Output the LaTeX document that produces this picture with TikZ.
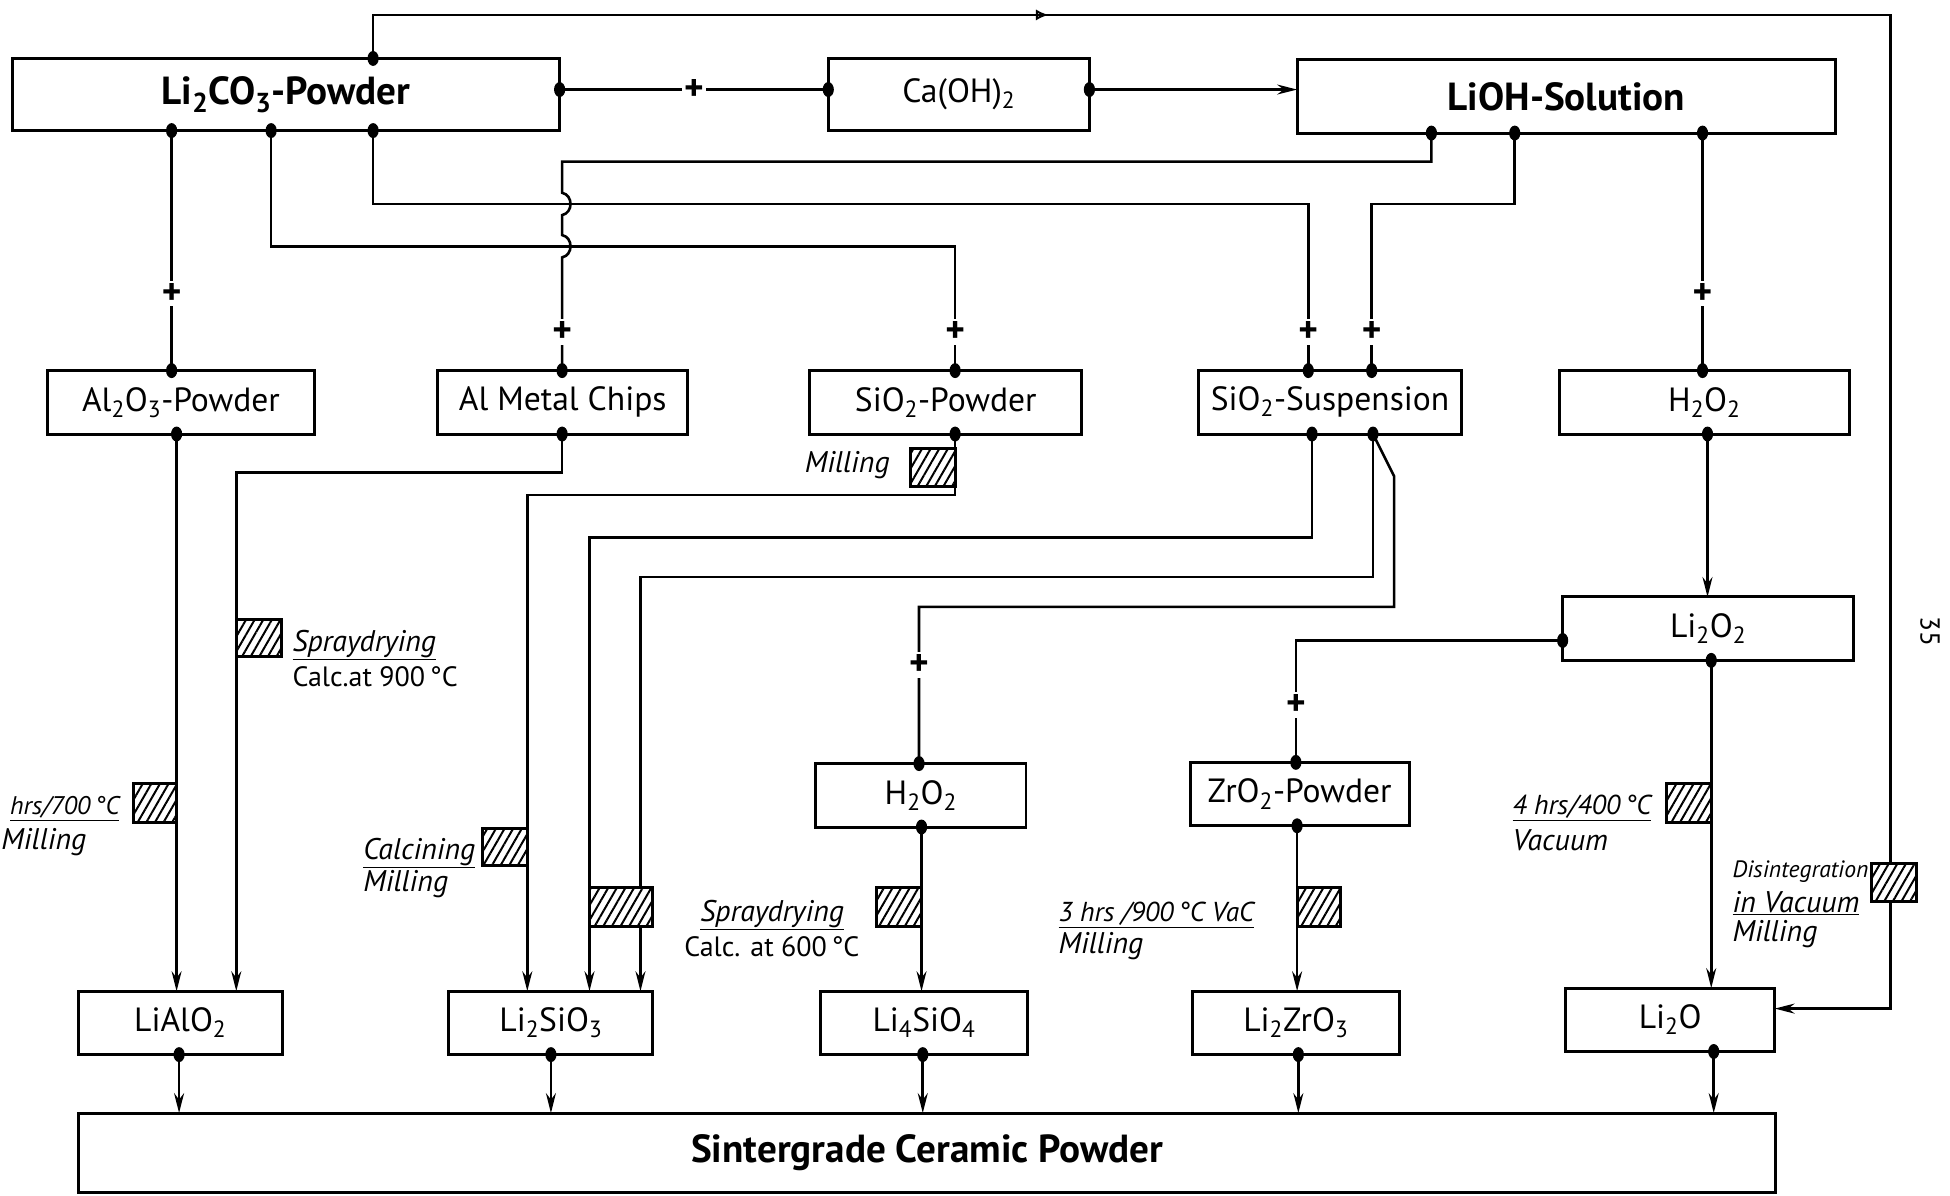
\documentclass[tikz,border=0pt]{standalone}
\usepackage{fontspec}
\setmainfont{PT Sans}
\usetikzlibrary{arrows.meta,patterns.meta,decorations.markings}
\newcommand\subs[1]{\textsubscript{#1}}
\newcommand\degc{\,°C}
\tikzset{
  box/.style={draw, line width=2.4pt, inner sep=0pt, fill=white, font=\fontsize{27}{30}\selectfont},
  bigbox/.style={box, font=\bfseries\fontsize{31.5}{34}\selectfont},
  conn/.style={line width=2.1pt},
  arr/.style={conn, -{Stealth[length=16pt,width=8pt]}},
  plus/.style={fill=white, inner sep=2pt, font=\bfseries\fontsize{30}{30}\selectfont},
  hatchbox/.style={draw, line width=2.4pt, preaction={fill=white}, pattern={Lines[angle=60,distance=6pt,line width=1.6pt]}},
  lbl/.style={anchor=west, inner sep=0pt, font=\itshape\fontsize{24}{28}\selectfont},
  tlbl/.style={anchor=west, inner sep=0pt, font=\itshape\fontsize{22}{26}\selectfont},
  rlbl/.style={anchor=west, inner sep=0pt, font=\fontsize{22.5}{26}\selectfont},
  slbl/.style={anchor=west, inner sep=0pt, font=\itshape\fontsize{19}{22}\selectfont},
}
\begin{document}
\begin{tikzpicture}[x=1pt,y=-1pt]
\useasboundingbox (0,0) rectangle (1568,961);
\fill[white] (0,0) rectangle (1568,961);
\clip (0,0) rectangle (1568,961);

% ---------- boxes ----------
\node[bigbox, minimum width=440pt, minimum height=58pt] (lico) at (230,76) {Li\subs{2}CO\subs{3}-Powder};
\node[box, minimum width=210pt, minimum height=58pt] (caoh) at (771,76) {Ca(OH)\subs{2}};
\node[bigbox, minimum width=433pt, minimum height=59pt] (lioh) at (1259.5,77.5) {LiOH-Solution};
\node[box, minimum width=215pt, minimum height=51pt] (alo) at (145.5,323.5) {Al\subs{2}O\subs{3}-Powder};
\node[box, minimum width=201pt, minimum height=51pt] (alm) at (452.5,323.5) {Al Metal Chips};
\node[box, minimum width=219pt, minimum height=51pt] (sip) at (760.5,323.5) {SiO\subs{2}-Powder};
\node[box, minimum width=211pt, minimum height=51pt] (sis) at (1069.5,323.5) {SiO\subs{2}-Suspension};
\node[box, minimum width=233pt, minimum height=51pt] (hpa) at (1370.5,323.5) {H\subs{2}O\subs{2}};
\node[box, minimum width=234pt, minimum height=51pt] (lpo) at (1373.5,505.5) {Li\subs{2}O\subs{2}};
\node[box, minimum width=169pt, minimum height=51pt] (hpb) at (740.5,639.5) {H\subs{2}O\subs{2}};
\node[box, minimum width=176pt, minimum height=51pt] (zro) at (1045,638.5) {ZrO\subs{2}-Powder};
\node[box, minimum width=164pt, minimum height=51pt] (lial) at (145,822.5) {LiAlO\subs{2}};
\node[box, minimum width=164pt, minimum height=51pt] (lsit) at (443,822.5) {Li\subs{2}SiO\subs{3}};
\node[box, minimum width=166pt, minimum height=51pt] (lsif) at (743,822.5) {Li\subs{4}SiO\subs{4}};
\node[box, minimum width=166pt, minimum height=51pt] (lzr) at (1042,822.5) {Li\subs{2}ZrO\subs{3}};
\node[box, minimum width=168pt, minimum height=51pt] (lio) at (1343,820) {Li\subs{2}O};
\node[bigbox, minimum width=1365pt, minimum height=64pt] (sint) at (745.5,927) {Sintergrade Ceramic Powder};

% ---------- connection points ----------
\coordinate (licoT) at (300,47);
\coordinate (licoR) at (450,72);
\coordinate (licoA) at (138,105);
\coordinate (licoB) at (218,105);
\coordinate (licoC) at (300,105);
\coordinate (caohL) at (666,72);
\coordinate (caohR) at (876,72);
\coordinate (liohL) at (1043,72);
\coordinate (liohA) at (1151,107);
\coordinate (liohB) at (1218,107);
\coordinate (liohC) at (1369,107);
\coordinate (aloT) at (138,298);
\coordinate (aloB) at (142,349);
\coordinate (almT) at (452,298);
\coordinate (almB) at (452,349);
\coordinate (sipT) at (768,298);
\coordinate (sipB) at (768,349);
\coordinate (sisTA) at (1052,298);
\coordinate (sisTB) at (1103,298);
\coordinate (sisBA) at (1055,349);
\coordinate (sisBB) at (1104,349);
\coordinate (hpaT) at (1369,298);
\coordinate (hpaB) at (1373,349);
\coordinate (lpoT) at (1373,480);
\coordinate (lpoL) at (1256.5,515);
\coordinate (lpoB) at (1376,531);
\coordinate (hpbT) at (739,614);
\coordinate (hpbB) at (741,665);
\coordinate (zroT) at (1042,613);
\coordinate (zroB) at (1043,664);
\coordinate (lialTA) at (142,797);
\coordinate (lialTB) at (190,797);
\coordinate (lsitTA) at (424,797);
\coordinate (lsitTB) at (474,797);
\coordinate (lsitTC) at (515,797);
\coordinate (lsifT) at (741,797);
\coordinate (lzrT) at (1043,797);
\coordinate (lioT) at (1376,794.5);
\coordinate (lioR) at (1427,811);
\coordinate (lialB) at (144,848);
\coordinate (lsitB) at (443,848);
\coordinate (lsifB) at (742,848);
\coordinate (lzrB) at (1044,848);
\coordinate (lioB) at (1378,845.5);
\coordinate (sintA) at (144,895);
\coordinate (sintB) at (443,895);
\coordinate (sintC) at (742,895);
\coordinate (sintD) at (1044,895);
\coordinate (sintE) at (1378,895);

% ---------- connectors ----------
\draw[conn] (licoR) -- (caohL);
\draw[arr] (caohR) -- (liohL);
\draw[arr, postaction={decorate}, decoration={markings, mark=at position 578pt with {\arrow{Latex[open,length=10pt,width=9pt,line width=1.6pt]}}}]
  (licoT) -- (300,12) -- (1520,12) -- (1520,811) -- (lioR);
\draw[conn] (licoA) -- (aloT);
\draw[conn] (licoB) -- (218,198) -- (768,198) -- (sipT);
\draw[conn] (licoC) -- (300,164) -- (1052,164) -- (sisTA);
\draw[conn] (liohA) -- (1151,130) -- (452,130) -- (452,155)
  .. controls (461,157) and (461,171) .. (452,173) -- (452,189)
  .. controls (461,191) and (461,205) .. (452,207) -- (almT);
\draw[conn] (liohB) -- (1218,164) -- (1103,164) -- (sisTB);
\draw[conn] (liohC) -- (hpaT);
\draw[arr] (aloB) -- (lialTA);
\draw[arr] (almB) -- (452,380) -- (190,380) -- (lialTB);
\draw[arr] (sipB) -- (768,398) -- (424,398) -- (lsitTA);
\draw[arr] (sisBA) -- (1055,432) -- (474,432) -- (lsitTB);
\draw[arr] (sisBB) -- (1104,464) -- (515,464) -- (lsitTC);
\draw[conn] (sisBB) -- (1121,383) -- (1121,488) -- (739,488) -- (hpbT);
\draw[arr] (hpaB) -- (lpoT);
\draw[conn] (lpoL) -- (1042,515) -- (zroT);
\draw[arr] (lpoB) -- (lioT);
\draw[arr] (hpbB) -- (lsifT);
\draw[arr] (zroB) -- (lzrT);
\draw[arr] (lialB) -- (sintA);
\draw[arr] (lsitB) -- (sintB);
\draw[arr] (lsifB) -- (sintC);
\draw[arr] (lzrB) -- (sintD);
\draw[arr] (lioB) -- (sintE);

% ---------- hatched process boxes ----------
\draw[hatchbox] (107,630) rectangle (142,661);
\draw[hatchbox] (190,498) rectangle (226,528);
\draw[hatchbox] (732,361) rectangle (768,391);
\draw[hatchbox] (388,666) rectangle (424,696);
\draw[hatchbox] (474,714) rectangle (525,745);
\draw[hatchbox] (705,714) rectangle (741,745);
\draw[hatchbox] (1043,714) rectangle (1078,745);
\draw[hatchbox] (1340,630) rectangle (1376,661);
\draw[hatchbox] (1505,694) rectangle (1541,725);

% ---------- junction dots ----------
\foreach \c in {licoT,licoR,licoA,licoB,licoC,caohL,caohR,liohA,liohB,liohC,
  aloT,aloB,almT,almB,sipT,sipB,sisTA,sisTB,sisBA,sisBB,hpaT,hpaB,lpoL,lpoB,
  hpbT,hpbB,zroT,zroB,lialB,lsitB,lsifB,lzrB,lioB}
  \fill (\c) ellipse [x radius=4.5pt, y radius=6pt];

% ---------- plus signs ----------
\node[plus] (p1) at (558,72) {+};
\node[plus] (p2) at (138,236) {+};
\node[plus] (p3) at (452,267) {+};
\node[plus] (p4) at (768,267) {+};
\node[plus] (p5) at (1052,267) {+};
\node[plus] (p6) at (1103,267) {+};
\node[plus] (p7) at (1369,236) {+};
\node[plus] (p8) at (739,535) {+};
\node[plus] (p9) at (1042,567) {+};

% ---------- labels ----------
\node[lbl] (t1) at (647,374) {Milling};
\node[lbl] (t2) at (235,519) {\underline{Spraydrying}};
\node[rlbl] (t3) at (235,544) {Calc.at 900\degc};
\node[tlbl, font=\itshape\fontsize{20.5}{24}\selectfont] (t4) at (8,650) {\underline{hrs/700\degc}};
\node[lbl] (t5) at (1,677) {Milling};
\node[lbl] (t6) at (292,686) {\underline{Calcining}};
\node[lbl] (t7) at (292,711) {Milling};
\node[lbl] (t8) at (563,736) {\underline{Spraydrying}};
\node[rlbl] (t9) at (550,761) {Calc. at 600\degc};
\node[tlbl] (t10) at (851,736) {\underline{3 hrs /900\degc\ VaC}};
\node[lbl] (t11) at (851,761) {Milling};
\node[tlbl] (t12) at (1216,650) {\underline{4 hrs/400\degc}};
\node[lbl] (t13) at (1216,676) {Vacuum};
\node[slbl] (t14) at (1393,701) {Disintegration};
\node[lbl] (t15) at (1393,726) {\underline{in Vacuum}};
\node[lbl] (t16) at (1393,751) {Milling};
\node[rotate=-90, font=\fontsize{22}{24}\selectfont] (pg) at (1552,508) {35};
\end{tikzpicture}
\end{document}
